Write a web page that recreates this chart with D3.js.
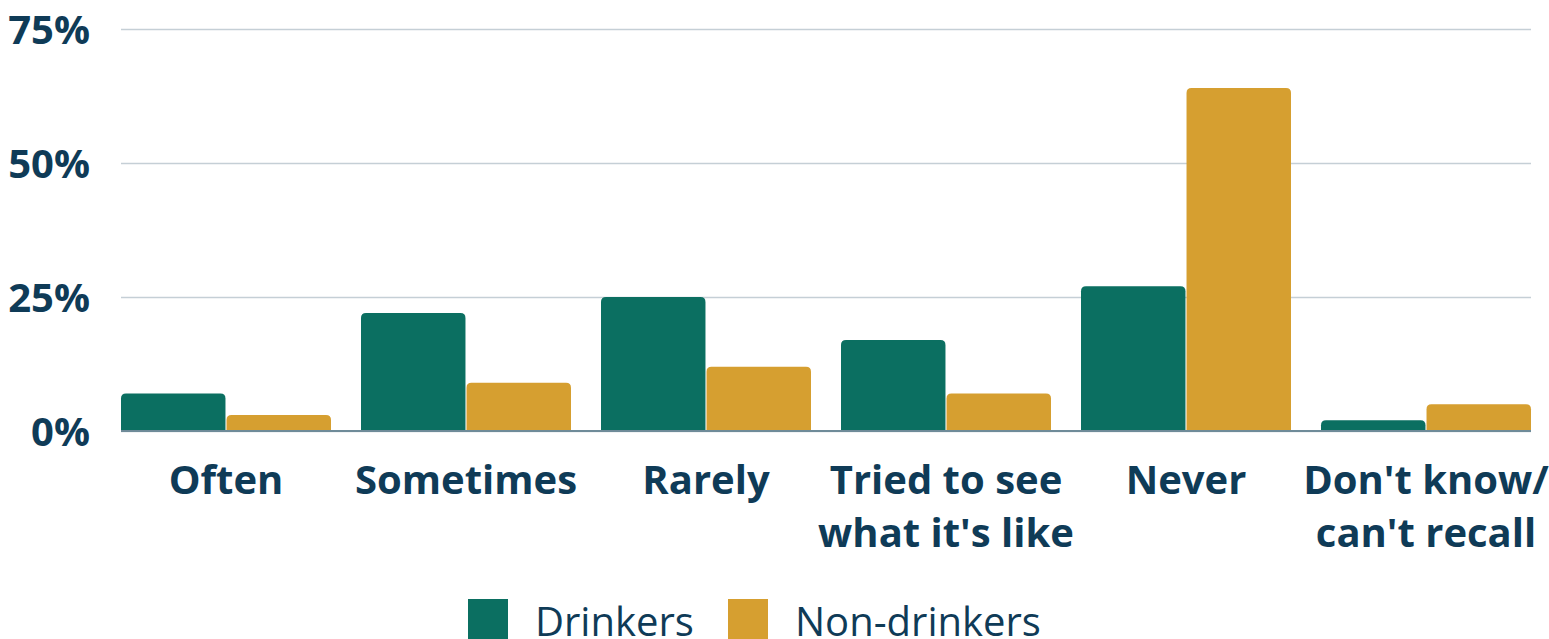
<!DOCTYPE html>
<html>
<head>
<meta charset="utf-8">
<script src="https://cdn.jsdelivr.net/npm/d3@7"></script>
<style>
  html, body { margin: 0; padding: 0; background: #fff; }
  svg { display: block; font-family: "Open Sans", sans-serif; }
</style>
</head>
<body>
<svg id="chart" width="1549" height="639"></svg>
<script>
// Frequency categories and share of respondents (%) by group
const categories = ["Often", "Sometimes", "Rarely", "Tried to see\nwhat it's like", "Never", "Don't know/\ncan't recall"];
const seriesNames = ["Drinkers", "Non-drinkers"];
const drinkers = [7, 22, 25, 17, 27, 2];
const nonDrinkers = [3, 9, 12, 7, 64, 5];
const yTicks = [0, 25, 50, 75];
const colors = ["#0b6f61", "#d69f30"];

const svg = d3.select("#chart");
const textColor = "#0f3b57";
const fontFamily = "'Open Sans', 'Noto Sans', sans-serif";
const margin = { left: 121, right: 18, top: 29, bottom: 208 };
const width = 1549, height = 639;

const x0 = d3.scaleBand()
  .domain(categories)
  .range([margin.left, width - margin.right])
  .paddingInner(0.125)
  .paddingOuter(0);

const x1 = d3.scaleBand()
  .domain(seriesNames)
  .range([0, x0.bandwidth()])
  .paddingInner(0.01);

const y = d3.scaleLinear()
  .domain([0, 75])
  .range([height - margin.bottom, margin.top]);

// gridlines + y labels
const yAxis = d3.axisLeft(y)
  .tickValues(yTicks)
  .tickSize(-(width - margin.right - margin.left))
  .tickPadding(31)
  .tickFormat(d => d + "%");

const gy = svg.append("g")
  .attr("transform", `translate(${margin.left},0)`)
  .call(yAxis)
  .attr("font-family", fontFamily);
gy.select(".domain").remove();
gy.selectAll(".tick line").attr("stroke", "#c5cfd6").attr("stroke-width", 1.5);
gy.selectAll(".tick text")
  .attr("fill", textColor)
  .attr("font-size", 40)
  .attr("font-weight", 700)
  .attr("dy", "0.36em");

// bars with rounded top corners
function topRounded(xp, yp, w, h, r) {
  r = Math.min(r, h, w / 2);
  return `M${xp},${yp + h}V${yp + r}Q${xp},${yp} ${xp + r},${yp}H${xp + w - r}Q${xp + w},${yp} ${xp + w},${yp + r}V${yp + h}Z`;
}

const rows = categories.map((c, i) => ({ cat: c, vals: [drinkers[i], nonDrinkers[i]] }));

const groups = svg.append("g").selectAll("g")
  .data(rows)
  .join("g")
  .attr("transform", d => `translate(${x0(d.cat)},0)`);

groups.selectAll("path")
  .data(d => d.vals.map((v, j) => ({ v, s: seriesNames[j], j })))
  .join("path")
  .attr("fill", d => colors[d.j])
  .attr("d", d => topRounded(x1(d.s), y(d.v), x1.bandwidth(), y(0) - y(d.v), 5));

// baseline
svg.append("line")
  .attr("x1", margin.left).attr("x2", width - margin.right)
  .attr("y1", y(0)).attr("y2", y(0))
  .attr("stroke", "#6f8b99").attr("stroke-width", 2);

// category labels (x axis)
const xAxis = d3.axisBottom(x0).tickSize(0).tickPadding(0);
const gx = svg.append("g")
  .attr("transform", `translate(0,${y(0)})`)
  .call(xAxis)
  .attr("font-family", fontFamily);
gx.select(".domain").remove();
gx.selectAll(".tick text").each(function (d) {
  const t = d3.select(this);
  t.text(null)
    .attr("fill", textColor)
    .attr("font-size", 40)
    .attr("font-weight", 700)
    .attr("y", 0)
    .attr("dy", null);
  d.split("\n").forEach((line, k) => {
    t.append("tspan")
      .attr("x", 0)
      .attr("y", 63 + k * 53)
      .text(line);
  });
});

// legend
const legend = svg.append("g").attr("transform", "translate(468,599)");
const legendX = [0, 260];
seriesNames.forEach((name, j) => {
  const g = legend.append("g").attr("transform", `translate(${legendX[j]},0)`);
  g.append("rect").attr("width", 40).attr("height", 40).attr("fill", colors[j]);
  g.append("text")
    .attr("x", 67).attr("y", 37)
    .attr("fill", textColor)
    .attr("font-family", fontFamily)
    .attr("font-size", 40)
    .text(name);
});
</script>
</body>
</html>
